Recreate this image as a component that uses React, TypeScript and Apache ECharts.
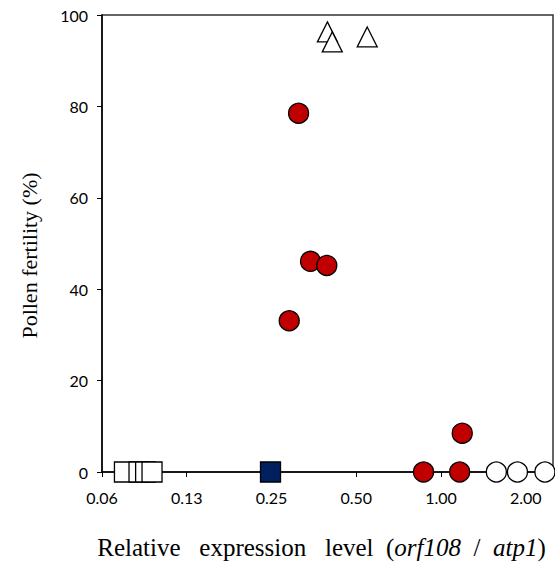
import React, { useEffect, useRef } from "react";
import * as echarts from "echarts";

// Relative expression level (x) and pollen fertility % (y)
const openSquaresX = [0.0751, 0.0846, 0.0893, 0.0941];
const openSquaresY = [0, 0, 0, 0];
const filledSquareX = [0.248];
const filledSquareY = [0];
const redCirclesX = [0.312, 0.344, 0.393, 0.289, 0.867, 1.165, 1.19];
const redCirclesY = [78.5, 46.1, 45.2, 33.1, 0, 0, 8.5];
const openCirclesX = [1.573, 1.869, 2.34];
const openCirclesY = [0, 0, 0];
const trianglesX = [0.395, 0.411, 0.547];
const trianglesY = [96.3, 94.1, 95.2];

const xTicks = [0.0625, 0.125, 0.25, 0.5, 1, 2];
const yTicks = [0, 20, 40, 60, 80, 100];

const zip = (xs: number[], ys: number[]) => xs.map((x, i) => [x, ys[i]]);

export default function App() {
  const ref = useRef<HTMLDivElement>(null);
  useEffect(() => {
    if (!ref.current) return;
    const chart = echarts.init(ref.current, null, { renderer: "svg" });
    const labelFont = { fontFamily: "Lato", fontSize: 16, color: "#000" };
    const border = { borderColor: "#000", borderWidth: 1.3, opacity: 1 };
    chart.setOption({
      animation: false,
      backgroundColor: "#fff",
      grid: {
        left: 102,
        right: 2,
        top: 15,
        bottom: 99,
        show: true,
        borderColor: "#333",
        borderWidth: 1.5,
      },
      xAxis: {
        type: "log",
        logBase: 2,
        min: xTicks[0],
        max: 2.5,
        splitLine: { show: false },
        axisLine: { lineStyle: { color: "#000", width: 1.5 } },
        axisTick: { show: true, length: 5, lineStyle: { color: "#000" } },
        minorTick: { show: false },
        axisLabel: {
          ...labelFont,
          margin: 17,
          formatter: (v: number) => v.toFixed(2),
        },
        name: "{n|Relative   expression   level  (}{i|orf108}{n|  /  }{i|atp1}{n|)}",
        nameLocation: "middle",
        nameGap: 63,
        nameTextStyle: {
          padding: [0, 12, 0, 0],
          rich: {
            n: { fontFamily: "Liberation Serif", fontSize: 25, color: "#000" },
            i: { fontFamily: "Liberation Serif", fontSize: 25, fontStyle: "italic", color: "#000" },
          },
        },
      },
      yAxis: {
        type: "value",
        min: yTicks[0],
        max: yTicks[yTicks.length - 1],
        interval: 20,
        splitLine: { show: false },
        axisLine: { show: true, lineStyle: { color: "#000", width: 1.5 } },
        axisTick: { show: true, length: 5, lineStyle: { color: "#000" } },
        axisLabel: { ...labelFont, margin: 14 },
        name: "Pollen fertility (%)",
        nameLocation: "middle",
        nameGap: 62,
        nameTextStyle: {
          fontFamily: "Liberation Serif",
          fontSize: 22,
          color: "#000",
          padding: [0, 24, 0, 0],
        },
      },
      series: [
        {
          type: "scatter",
          clip: false,
          symbol: "rect",
          symbolSize: 20,
          itemStyle: { color: "#fff", ...border },
          data: zip(openSquaresX, openSquaresY),
        },
        {
          type: "scatter",
          clip: false,
          symbol: "rect",
          symbolSize: 20,
          itemStyle: { color: "#002060", ...border },
          data: zip(filledSquareX, filledSquareY),
        },
        {
          type: "scatter",
          clip: false,
          symbol: "circle",
          symbolSize: 20,
          itemStyle: { color: "#fff", ...border },
          data: zip(openCirclesX, openCirclesY),
        },
        {
          type: "scatter",
          clip: false,
          symbol: "circle",
          symbolSize: 20,
          itemStyle: { color: "#C00000", ...border },
          data: zip(redCirclesX, redCirclesY),
        },
        {
          type: "scatter",
          clip: false,
          symbol: "triangle",
          symbolSize: 20,
          itemStyle: { color: "#fff", ...border },
          data: zip(trianglesX, trianglesY),
        },
      ],
    });
    return () => chart.dispose();
  }, []);
  return (
    <div
      ref={ref}
      style={{ position: "fixed", left: 0, top: 0, width: 555, height: 571, background: "#fff" }}
    />
  );
}
